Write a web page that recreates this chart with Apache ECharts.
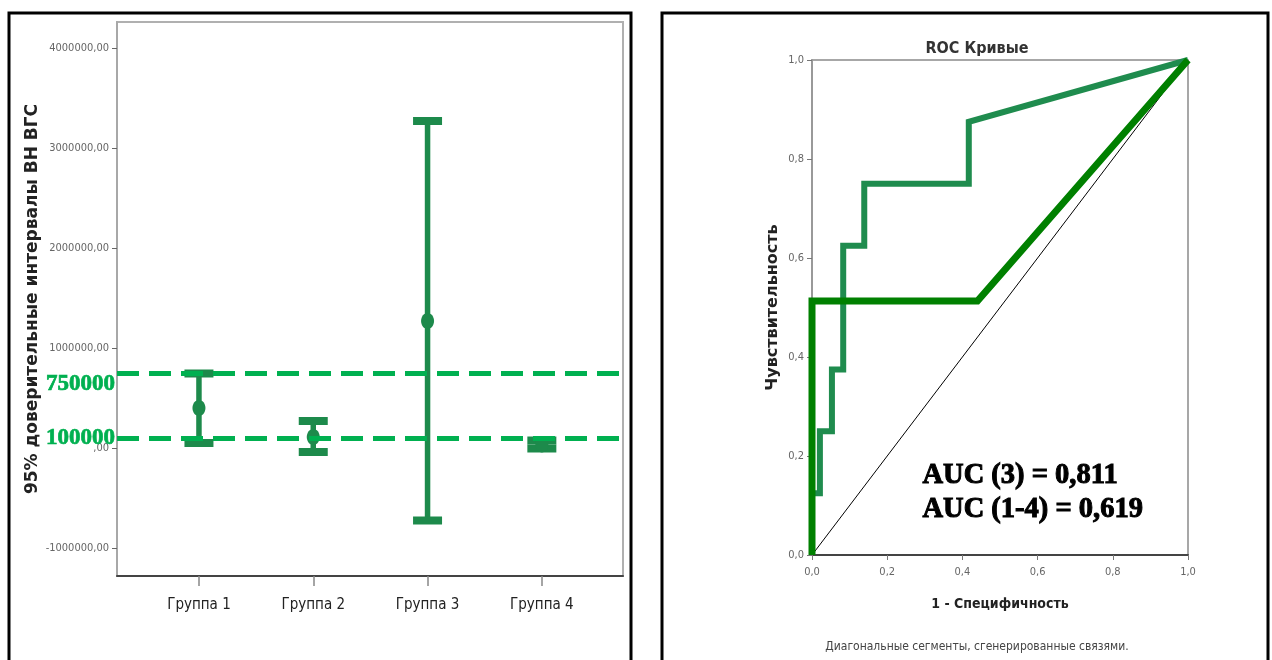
<!DOCTYPE html>
<html>
<head>
<meta charset="utf-8">
<script src="https://cdn.jsdelivr.net/npm/echarts@6/dist/echarts.min.js"></script>
<style>
html,body{margin:0;padding:0;background:#fff;}
#chart{width:1272px;height:660px;}
</style>
</head>
<body>
<div id="chart"></div>
<script>
// ---- Left chart: 95% CI error bars ----
const groups = ['Группа 1', 'Группа 2', 'Группа 3', 'Группа 4'];
const groupPos = [1, 2, 3, 4];
const ciLower = [50000, -40000, -725000, -5000];
const ciUpper = [745000, 270000, 3270000, 75000];
const ciMean = [400000, 110000, 1270000, 35000];
const thresholds = [750000, 100000];
const thresholdLabels = ['750000', '100000'];
const leftYTicks = [-1000000, 0, 1000000, 2000000, 3000000, 4000000];

// ---- Right chart: ROC curves ----
const roc3X = [0, 0, 0.021, 0.021, 0.053, 0.053, 0.083, 0.083, 0.139, 0.139, 0.417, 0.417, 1];
const roc3Y = [0, 0.125, 0.125, 0.25, 0.25, 0.375, 0.375, 0.625, 0.625, 0.75, 0.75, 0.875, 1];
const roc14X = [0, 0, 0.44, 1];
const roc14Y = [0, 0.513, 0.513, 1];
const diagX = [0, 1];
const diagY = [0, 1];
const aucTexts = ['AUC (3) = 0,811', 'AUC (1-4) = 0,619'];

const NARROW = "'Liberation Sans Narrow','Arial Narrow','DejaVu Sans Condensed','Roboto Condensed',sans-serif";
const SERIF = "'Liberation Serif','Times New Roman',serif";
const barColor = '#1d8a4b';

const zip = (a, b) => a.map((v, i) => [v, b[i]]);
const ciData = groupPos.map((p, i) => [p, ciLower[i], ciUpper[i], ciMean[i]]);

const chart = echarts.init(document.getElementById('chart'));
chart.setOption({
  animation: false,
  backgroundColor: '#fff',
  grid: [
    {left: 117, top: 22, width: 506, height: 554, show: true, borderColor: '#b0b0b0', borderWidth: 2, backgroundColor: 'transparent'},
    {left: 812, top: 60, width: 376, height: 495, show: true, borderColor: '#8a8a8a', borderWidth: 1.5, backgroundColor: 'transparent'}
  ],
  title: [
    {text: 'ROC Кривые', left: 972, top: 36, textAlign: 'center',
     textStyle: {fontFamily: NARROW, fontSize: 16, fontWeight: 'bold', color: '#333'}},
    {text: 'Диагональные сегменты, сгенерированные связями.', left: 972, top: 636, textAlign: 'center',
     textStyle: {fontFamily: NARROW, fontSize: 12, fontWeight: 'normal', color: '#444'}}
  ],
  xAxis: [
    {gridIndex: 0, type: 'value', min: 0.283, max: 4.71, splitLine: {show: false},
     axisLine: {show: true, onZero: false, lineStyle: {color: '#444', width: 2}},
     axisTick: {show: true, customValues: groupPos, length: 10, lineStyle: {color: '#888', width: 1.5}},
     axisLabel: {customValues: groupPos, formatter: v => groups[Math.round(v) - 1], margin: 22,
       fontFamily: NARROW, fontSize: 15, color: '#222'}},
    {gridIndex: 1, type: 'value', min: 0, max: 1, interval: 0.2, splitLine: {show: false},
     name: '1 - Специфичность', nameLocation: 'middle', nameGap: 42,
     nameTextStyle: {fontFamily: NARROW, fontSize: 14, fontWeight: 'bold', color: '#222'},
     axisLine: {show: true, onZero: false, lineStyle: {color: '#444', width: 2}},
     axisTick: {show: true, length: 5, lineStyle: {color: '#777'}},
     axisLabel: {formatter: v => v.toFixed(1).replace('.', ','), margin: 12,
       fontFamily: NARROW, fontSize: 11, color: '#666'}}
  ],
  yAxis: [
    {gridIndex: 0, type: 'value', min: -1280000, max: 4260000, splitLine: {show: false},
     name: '95% доверительные интервалы ВН ВГС', nameLocation: 'middle', nameGap: 76, nameRotate: 90,
     nameTextStyle: {fontFamily: "'DejaVu Sans',sans-serif", fontSize: 17, fontWeight: 'bold', color: '#222'},
     axisLine: {show: true, lineStyle: {color: '#a8a8a8', width: 2}},
     axisTick: {show: true, customValues: leftYTicks, length: 5, lineStyle: {color: '#666'}},
     axisLabel: {customValues: leftYTicks, margin: 8,
       formatter: v => (v === 0 ? '' : String(v)) + ',00',
       fontFamily: NARROW, fontSize: 11, color: '#666'}},
    {gridIndex: 1, type: 'value', min: 0, max: 1, interval: 0.2, splitLine: {show: false},
     name: 'Чувствительность', nameLocation: 'middle', nameGap: 31, nameRotate: 90,
     nameTextStyle: {fontFamily: "'DejaVu Sans',sans-serif", fontSize: 16, fontWeight: 'bold', color: '#222'},
     axisLine: {show: true, lineStyle: {color: '#999', width: 2}},
     axisTick: {show: true, length: 5, lineStyle: {color: '#777'}},
     axisLabel: {formatter: v => v.toFixed(1).replace('.', ','), margin: 8,
       fontFamily: NARROW, fontSize: 11, color: '#666'}}
  ],
  graphic: [
    {type: 'rect', shape: {x: 9, y: 13, width: 622, height: 670}, style: {fill: 'none', stroke: '#000', lineWidth: 3}},
    {type: 'rect', shape: {x: 662, y: 13, width: 606, height: 670}, style: {fill: 'none', stroke: '#000', lineWidth: 3}},
    {type: 'text', left: 922, top: 461, style: {text: aucTexts[0], fontFamily: SERIF, fontWeight: 'bold', fontSize: 28.5, fill: '#000', stroke: '#000', lineWidth: 1}},
    {type: 'text', left: 922, top: 495, style: {text: aucTexts[1], fontFamily: SERIF, fontWeight: 'bold', fontSize: 28.5, fill: '#000', stroke: '#000', lineWidth: 1}}
  ],
  series: [
    {
      type: 'custom', xAxisIndex: 0, yAxisIndex: 0, data: ciData, z: 3,
      renderItem: function (params, api) {
        const x = api.value(0);
        const top = api.coord([x, api.value(2)]);
        const bot = api.coord([x, api.value(1)]);
        const mid = api.coord([x, api.value(3)]);
        const capW = 29, capH = 8;
        return {type: 'group', children: [
          {type: 'line', shape: {x1: top[0], y1: top[1], x2: bot[0], y2: bot[1]}, style: {stroke: barColor, lineWidth: 5.5}},
          {type: 'rect', shape: {x: top[0] - capW / 2, y: top[1] - capH / 2, width: capW, height: capH}, style: {fill: barColor}},
          {type: 'rect', shape: {x: bot[0] - capW / 2, y: bot[1] - capH / 2, width: capW, height: capH}, style: {fill: barColor}},
          {type: 'ellipse', shape: {cx: mid[0], cy: mid[1], rx: 6.5, ry: 8}, style: {fill: barColor}}
        ]};
      }
    },
    {
      type: 'line', xAxisIndex: 0, yAxisIndex: 0, data: [], z: 4,
      markLine: {
        silent: true, symbol: 'none', animation: false,
        lineStyle: {color: '#00b050', width: 5, type: [22, 10]},
        data: thresholds.map((t, i) => ({
          yAxis: t,
          label: {show: true, position: 'start', distance: 2, formatter: thresholdLabels[i],
            fontFamily: SERIF, fontWeight: 'bold', fontSize: 23, color: '#00b050',
            textBorderColor: '#00b050', textBorderWidth: 0.7,
            verticalAlign: i === 0 ? 'top' : 'middle'}
        }))
      }
    },
    {type: 'line', xAxisIndex: 1, yAxisIndex: 1, data: zip(diagX, diagY), symbol: 'none', z: 2,
     lineStyle: {color: '#000', width: 1}},
    {type: 'line', xAxisIndex: 1, yAxisIndex: 1, data: zip(roc3X, roc3Y), symbol: 'none', z: 3,
     lineStyle: {color: '#1f8c4e', width: 6, join: 'miter'}},
    {type: 'line', xAxisIndex: 1, yAxisIndex: 1, data: zip(roc14X, roc14Y), symbol: 'none', z: 4,
     lineStyle: {color: '#008000', width: 7, join: 'miter'}}
  ]
});
</script>
</body>
</html>
